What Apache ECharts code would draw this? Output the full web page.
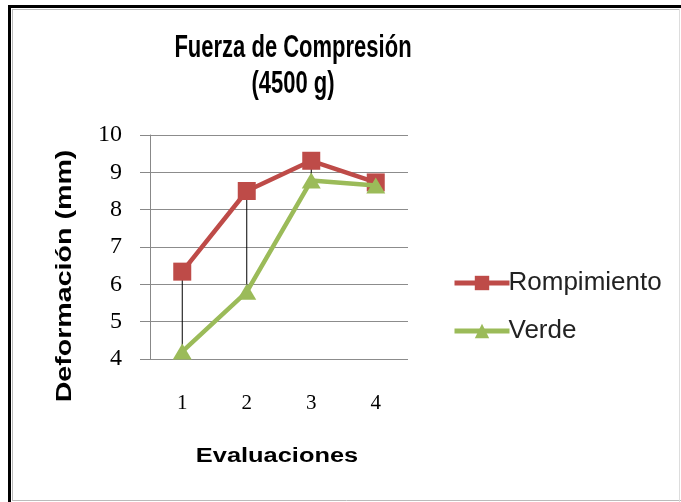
<!DOCTYPE html>
<html><head><meta charset="utf-8">
<script src="https://cdn.jsdelivr.net/npm/echarts@6/dist/echarts.min.js"></script>
<style>html,body{margin:0;padding:0;background:#fff}#c{width:681px;height:502px}</style>
</head><body><div id="c"></div>
<script>
const categories = ['1', '2', '3', '4'];
const rompimiento = [6.34, 8.5, 9.31, 8.73];
const verde = [4.2, 5.8, 8.78, 8.65];
const yTicks = [4, 5, 6, 7, 8, 9, 10];
const titleLines = ['Fuerza de Compresión', '(4500 g)'];
const xName = 'Evaluaciones';
const yName = 'Deformación (mm)';

const chart = echarts.init(document.getElementById('c'));
chart.setOption({
  animation: false,
  backgroundColor: '#fff',
  graphic: [
    {type: 'line', shape: {x1: 9, y1: 6.5, x2: 681, y2: 6.5}, style: {stroke: '#000', lineWidth: 3}},
    {type: 'line', shape: {x1: 9.5, y1: 5, x2: 9.5, y2: 502}, style: {stroke: '#000', lineWidth: 3}},
    {type: 'line', shape: {x1: 12, y1: 9.5, x2: 680, y2: 9.5}, style: {stroke: '#bbb', lineWidth: 1}},
    {type: 'line', shape: {x1: 12.5, y1: 9, x2: 12.5, y2: 500}, style: {stroke: '#bbb', lineWidth: 1}},
    {type: 'line', shape: {x1: 12, y1: 500.5, x2: 681, y2: 500.5}, style: {stroke: '#bbb', lineWidth: 1}},
    {type: 'line', shape: {x1: 679.5, y1: 9, x2: 679.5, y2: 502}, style: {stroke: '#ddd', lineWidth: 1}},
    {type: 'text', x: 293, y: 49, scaleY: 1.4,
      style: {text: titleLines[0], font: 'bold 22px "Liberation Sans"', fill: '#000', align: 'center', verticalAlign: 'middle'}},
    {type: 'text', x: 293, y: 85, scaleY: 1.4,
      style: {text: titleLines[1], font: 'bold 22px "Liberation Sans"', fill: '#000', align: 'center', verticalAlign: 'middle'}},
    {type: 'text', x: 277, y: 456, scaleX: 1.27,
      style: {text: xName, font: 'bold 20px "Liberation Sans"', fill: '#000', align: 'center', verticalAlign: 'middle'}},
    {type: 'text', x: 65, y: 276, rotation: Math.PI / 2, scaleX: 1.3,
      style: {text: yName, font: 'bold 22px "Liberation Sans"', fill: '#000', align: 'center', verticalAlign: 'middle'}}
  ],
  legend: {
    orient: 'vertical', left: 447, top: 265, itemGap: 22,
    itemWidth: 55, itemHeight: 18,
    lineStyle: {width: 5},
    textStyle: {fontFamily: 'Liberation Sans', fontSize: 26, lineHeight: 26, color: '#222', padding: [0,0,0,-6]},
    data: [{name: 'Rompimiento'}, {name: 'Verde'}]
  },
  grid: {left: 150, right: 273, top: 135, bottom: 143},
  xAxis: {
    type: 'category', data: categories, boundaryGap: true,
    axisLine: {show: false}, axisTick: {show: false},
    axisLabel: {fontFamily: 'Liberation Serif', fontSize: 21, color: '#000', margin: 34}
  },
  yAxis: {
    type: 'value', min: 4, max: 10, interval: 1,
    axisLine: {show: true, lineStyle: {color: '#888', width: 1}},
    axisTick: {show: true, inside: false, length: 10, lineStyle: {color: '#888'}},
    axisLabel: {fontFamily: 'Liberation Serif', fontSize: 24, color: '#000', margin: 28,
      formatter: v => yTicks.includes(v) ? String(v) : ''},
    splitLine: {lineStyle: {color: '#8c8c8c', width: 1}}
  },
  series: [
    {
      type: 'custom', name: 'hilo', silent: true, z: 1,
      data: categories.map((c, i) => [i, rompimiento[i], verde[i]]),
      renderItem: function (params, api) {
        const a = api.coord([api.value(0), api.value(1)]);
        const b = api.coord([api.value(0), api.value(2)]);
        return {type: 'line', shape: {x1: a[0], y1: a[1], x2: b[0], y2: b[1]},
          style: {stroke: '#000', lineWidth: 1}};
      }
    },
    {
      type: 'line', name: 'Rompimiento', data: rompimiento, z: 3,
      symbol: 'rect', symbolSize: 18,
      lineStyle: {color: '#BE4B48', width: 4.5},
      itemStyle: {color: '#BE4B48'}
    },
    {
      type: 'line', name: 'Verde', data: verde, z: 4,
      symbol: 'triangle', symbolSize: [19, 16],
      lineStyle: {color: '#9BBB59', width: 4.5},
      itemStyle: {color: '#9BBB59'}
    }
  ]
});
</script></body></html>
